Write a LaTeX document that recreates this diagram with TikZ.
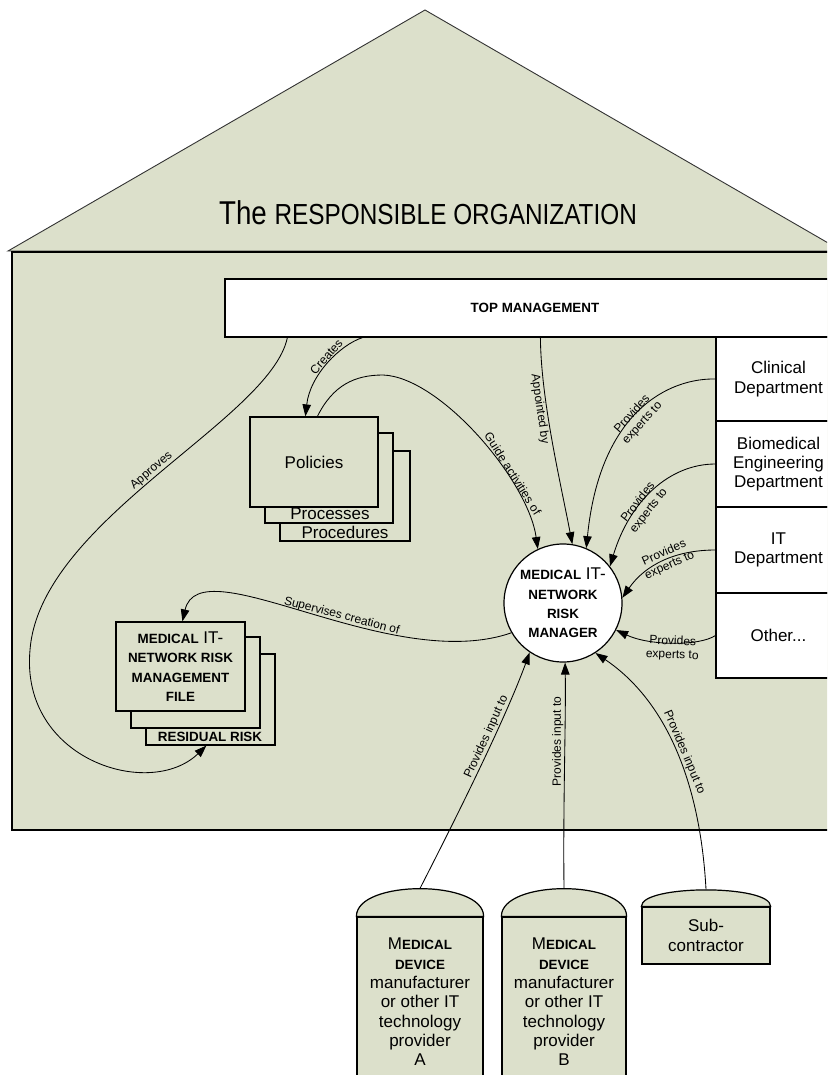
\documentclass[tikz,border=0pt]{standalone}
\usepackage{fontspec}
\setmainfont{Liberation Sans}
\usetikzlibrary{arrows.meta,calc}
\definecolor{housefill}{RGB}{220,224,203}
\newcommand\mysc[1]{{\fontsize{13.4}{19.3}\selectfont\bfseries #1}}
\begin{document}
\begin{tikzpicture}[x=1pt,y=-1pt,
  box/.style={draw=black,line width=1.2pt,fill=housefill,inner sep=0pt},
  wbox/.style={draw=black,line width=1.2pt,fill=white,inner sep=0pt},
  txt/.style={font=\fontsize{17}{19.3}\selectfont,align=center,inner sep=0pt},
  conn/.style={draw=black,line width=0.85pt,-{Triangle[length=12pt,width=8.5pt]}},
  lbl/.style={font=\fontsize{12}{13.5}\selectfont,sloped,align=center,inner sep=1pt},
  lblv/.style={font=\fontsize{12}{13.5}\selectfont,align=center,inner sep=1pt},
]
\useasboundingbox (0,0) rectangle (827,1075);
\fill[white] (0,0) rectangle (827,1075);
\clip (0,0) rectangle (827,1075);

% house
\filldraw[fill=housefill,draw=black!80,line width=0.9pt] (8,251) -- (425,10) -- (842,251) -- cycle;
\filldraw[fill=housefill,draw=black,line width=1.2pt] (12,252) rectangle (845,830);
\node[font=\fontsize{33}{36}\selectfont,inner sep=0pt] (title) at (428,213)
  {\scalebox{0.84}[1]{The {\fontsize{29}{36}\selectfont RESPONSIBLE ORGANIZATION}}};

% top management
\node[wbox,minimum width=620,minimum height=58,txt] (tm) at (535,308) {\mysc{TOP MANAGEMENT}};

% departments
\node[wbox,minimum width=125,minimum height=84,txt] (clin) at (778.5,379) {Clinical\\Department};
\node[wbox,minimum width=125,minimum height=86,txt] (bio) at (778.5,464) {Biomedical\\Engineering\\Department};
\node[wbox,minimum width=125,minimum height=86,txt] (itd) at (778.5,550) {IT\\Department};
\node[wbox,minimum width=125,minimum height=85,txt] (oth) at (778.5,635.5) {Other...};

% policies stack
\node[box,minimum width=130,minimum height=90] (proc) at (345,496) {};
\node[box,minimum width=128,minimum height=90] (pros) at (329,478) {};
\node[box,minimum width=128,minimum height=90,txt] (pol) at (314,462) {Policies};
\node[txt] (prosT) at (330,514) {Processes};
\node[txt] (procT) at (345,532) {Procedures};

% risk management file stack
\node[box,minimum width=129,minimum height=91] (rf3) at (210.5,699.5) {};
\node[box,minimum width=129,minimum height=91] (rf2) at (195.5,682.5) {};
\node[box,minimum width=129,minimum height=89,txt] (rf) at (180.5,666.5)
  {\mysc{MEDICAL} IT-\\\mysc{NETWORK RISK}\\\mysc{MANAGEMENT}\\\mysc{FILE}};
\node[txt] (rrT) at (210,737) {\mysc{RESIDUAL RISK}};

% risk manager
\node[draw=black,circle,fill=white,line width=1.2pt,minimum size=118,inner sep=0pt,txt] (rm) at (563,603)
  {\mysc{MEDICAL} IT-\\\mysc{NETWORK}\\\mysc{RISK}\\\mysc{MANAGER}};

% vendors
\node[box,minimum width=126,minimum height=170,txt] (va) at (420,1002)
  {M\mysc{EDICAL}\\\mysc{DEVICE}\\manufacturer\\or other IT\\technology\\provider\\A};
\filldraw[fill=housefill,draw=black,line width=1.2pt] (va.north west) .. controls ++(0,-37) and ($(va.north east)+(0,-37)$) .. (va.north east) -- cycle;
\node[box,minimum width=124,minimum height=170,txt] (vb) at (564,1002)
  {M\mysc{EDICAL}\\\mysc{DEVICE}\\manufacturer\\or other IT\\technology\\provider\\B};
\filldraw[fill=housefill,draw=black,line width=1.2pt] (vb.north west) .. controls ++(0,-37) and ($(vb.north east)+(0,-37)$) .. (vb.north east) -- cycle;
\node[box,minimum width=128,minimum height=57,txt] (sc) at (706,935.5) {Sub-\\contractor};
\filldraw[fill=housefill,draw=black,line width=1.2pt] (sc.north west) .. controls ++(0,-22) and ($(sc.north east)+(0,-22)$) .. (sc.north east) -- cycle;
\coordinate (vaTop) at ($(va.north)+(0,-28)$);
\coordinate (vbTop) at ($(vb.north)+(0,-28)$);
\coordinate (scTop) at ($(sc.north)+(0,-17)$);
\coordinate (gdPeak) at (383,375);
\coordinate (apBend) at (30,650);

% connectors
\draw[conn] ([xshift=138pt]tm.south west) .. controls (340,345) and (310,375) .. ([xshift=56pt]pol.north west)
  node[lbl,pos=0.45,above] (lCreates) {Creates};
\draw[conn] ([xshift=68pt]pol.north west) .. controls (333,385) and (355,375) .. (gdPeak)
  .. controls (440,377) and (528,480) .. (rm.115) node[lbl,pos=0.68,above] (lGuide) {Guide activities of};
\draw[conn] ([xshift=316pt]tm.south west) .. controls (541,400) and (560,480) .. (rm.81)
  node[lbl,pos=0.35,below] (lAppointed) {Appointed by};
\draw[conn] (clin.west) .. controls (670,378) and (600,410) .. (rm.67)
  node[lbl,pos=0.53,below=-10pt] (lClin) {Provides\\experts to};
\draw[conn] (bio.west) .. controls (670,464) and (630,500) .. (rm.38)
  node[lbl,pos=0.62,below=-10pt] (lBio) {Provides\\experts to};
\draw[conn] (itd.west) .. controls (675,550) and (645,565) .. (rm.5)
  node[lbl,pos=0.45] (lIT) {Provides\\experts to};
\draw[conn] (oth.west) .. controls (700,646) and (650,646) .. (rm.-27)
  node[lbl,pos=0.5,below=-8pt] (lOth) {Provides\\experts to};
\draw[conn] (rm.210) .. controls (390,675) and (200,545) .. ([xshift=67pt]rf.north west)
  node[lbl,pos=0.42,above] (lSup) {Supervises creation of};
\draw[conn] ([xshift=63pt]tm.south west) .. controls (270,420) and (40,520) .. (apBend)
  node[lbl,pos=0.5,above] (lAppr) {Approves}
  .. controls (20,760) and (150,800) .. ([xshift=61pt]rf3.south west);
\draw[conn] (vaTop) .. controls (455,820) and (505,720) .. (rm.236)
  node[lbl,pos=0.62,above] (lA) {Provides input to};
\draw[conn] (vbTop) .. controls (563,800) and (566,720) .. (rm.272)
  node[lblv,pos=0.6,rotate=90,anchor=south] (lB) {Provides input to};
\draw[conn] (scTop) .. controls (700,780) and (665,700) .. (rm.303)
  node[lbl,pos=0.47,above] (lSub) {Provides input to};
\end{tikzpicture}
\end{document}
